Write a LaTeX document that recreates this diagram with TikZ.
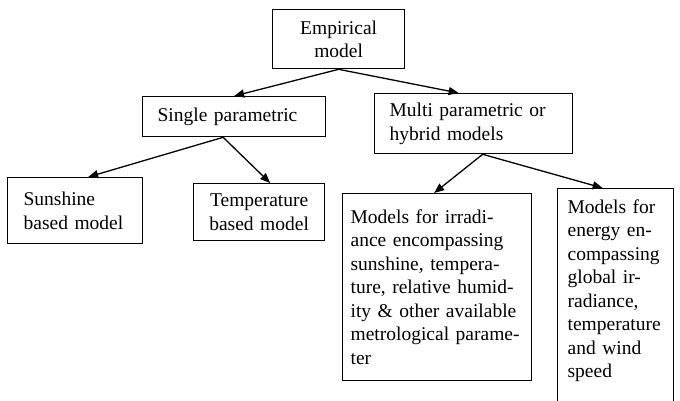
\documentclass[tikz,border=0pt]{standalone}
\usepackage{fontspec}
\setmainfont{Liberation Serif}
\usetikzlibrary{arrows.meta}

\begin{document}
\begin{tikzpicture}[x=1pt,y=-1pt,
  box/.style={draw,line width=1.3pt,anchor=north west,inner ysep=0pt,
    font=\fontsize{19.5}{23.5}\selectfont},
  arr/.style={line width=1.3pt,-{Triangle[length=10pt,width=8pt]}}]
\useasboundingbox (0,0) rectangle (680,400);
\clip (0,0) rectangle (680,400);
% top and second level
\node [box,text width=120pt,inner xsep=6pt,align=center,minimum height=59pt] (emp) at (272,9) {Empirical\\model};
\node [box,text width=153pt,inner xsep=15pt,align=left,minimum height=40pt] (single) at (142,96) {Single parametric};
\node [box,text width=168pt,inner xsep=15pt,align=left,minimum height=60pt] (multi) at (374,93) {Multi parametric or\\hybrid models};
% single parametric models
\node [box,text width=103pt,inner xsep=16pt,align=left,minimum height=66pt] (sun) at (7,177) {Sunshine\\based model};
\node [box,text width=119pt,inner xsep=6pt,align=center,minimum height=57pt] (temp) at (193,183) {Temperature\\based model};
% multi parametric models
\node [box,text width=173pt,inner xsep=8pt,align=left,minimum height=187pt] (irr) at (342,193)
  {Models for irradi-\\ance encompassing\\sunshine, tempera-\\ture, relative humid-\\ity \& other available\\metrological parame-\\ter};
\node [box,text width=96pt,inner xsep=10pt,inner ysep=11pt,align=left,text height=13.5pt,text depth=220pt] (energy) at (557,188)
  {Models for\\energy en-\\compassing\\global ir-\\radiance,\\temperature\\and wind\\speed};
% arrows
\draw [arr] (emp.south) -- (single.north);
\draw [arr] (emp.south) -- ([xshift=-15pt]multi.north);
\draw [arr] ([xshift=-11pt]single.south) -- ([xshift=13pt]sun.north);
\draw [arr] ([xshift=-11pt]single.south) -- ([xshift=11pt]temp.north);
\draw [arr] ([xshift=9pt]multi.south) -- ([xshift=-3pt]irr.north);
\draw [arr] ([xshift=9pt]multi.south) -- ([xshift=-13pt]energy.north);
\end{tikzpicture}
\end{document}
